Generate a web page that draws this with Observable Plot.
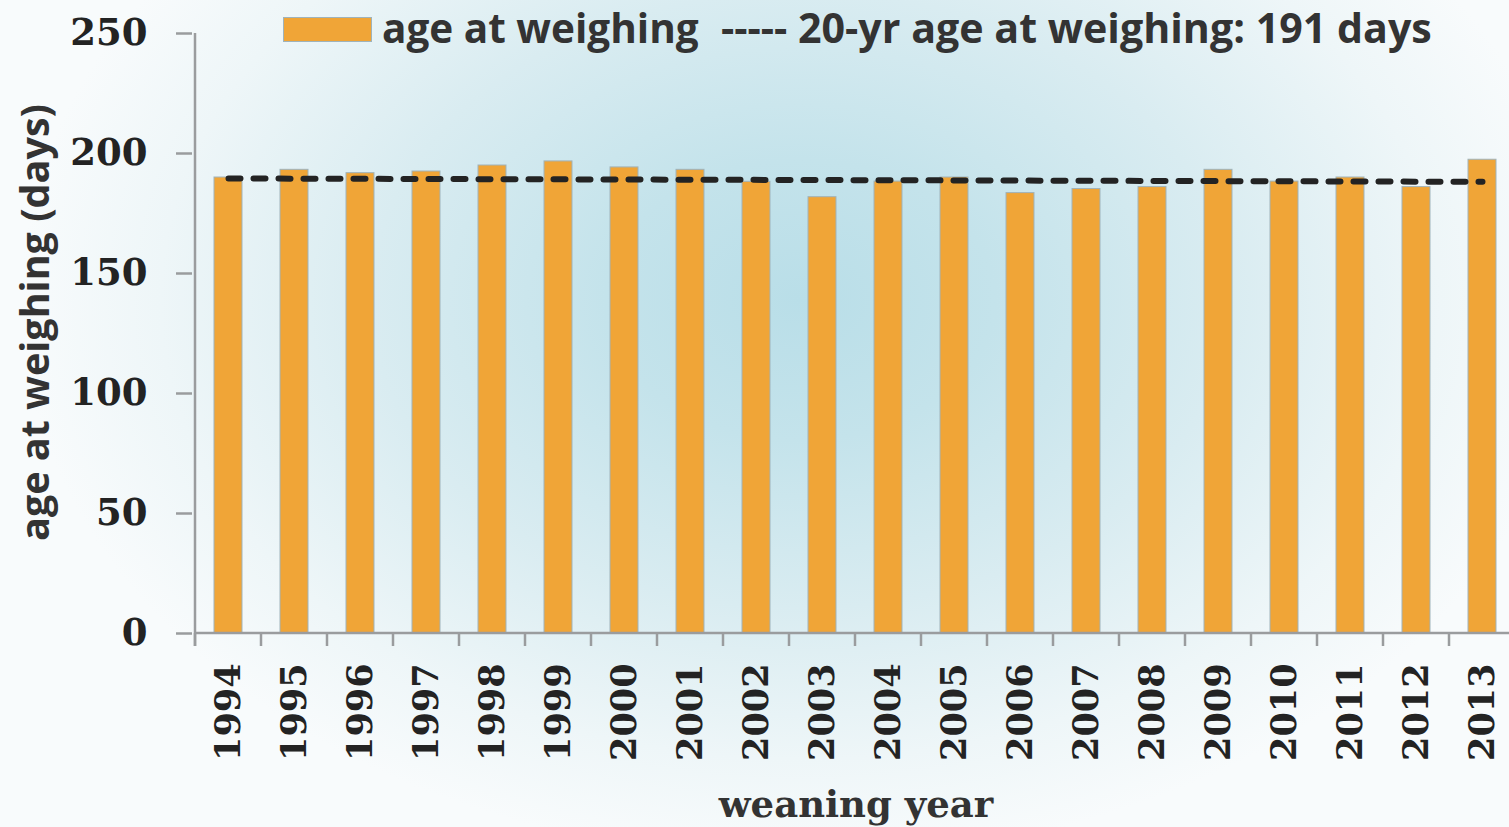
<!DOCTYPE html>
<html>
<head>
<meta charset="utf-8">
<script src="https://cdn.jsdelivr.net/npm/d3@7"></script>
<script src="https://cdn.jsdelivr.net/npm/@observablehq/plot@0.6"></script>
<style>
  html, body { margin: 0; padding: 0; background: #f8fbfc; }
  #wrap {
    position: relative; width: 1509px; height: 827px; overflow: hidden;
    background: radial-gradient(ellipse 780px 560px at 800px 300px, #b9dee8 0%, #c4e3eb 25%, #d9ecf1 55%, #eef6f8 82%, #f8fbfc 100%);
  }
  #chart svg { display: block; background: transparent !important; }
  #legend { position: absolute; left: 0; top: 0; width: 1509px; height: 60px; pointer-events: none; }
  .sw { position: absolute; left: 283px; top: 17px; width: 87px; height: 23px; background: #F0A537; border: 1px solid #9fb3bb; }
  .lt { position: absolute; top: 0px; font-family: "Open Sans", sans-serif; font-weight: 700; font-size: 40.5px; color: #333; line-height: 55px; white-space: pre; }
</style>
</head>
<body>
<div id="wrap">
  <div id="chart"></div>
  <div id="legend"></div>
</div>
<script>
// ---- data ----
const years = [1994, 1995, 1996, 1997, 1998, 1999, 2000, 2001, 2002, 2003,
               2004, 2005, 2006, 2007, 2008, 2009, 2010, 2011, 2012, 2013];
const ageAtWeighing = [190.0, 193.2, 191.8, 192.5, 195.0, 196.7, 194.2, 193.2, 188.2, 181.8,
                       188.3, 190.0, 183.5, 185.2, 186.0, 193.2, 188.3, 190.0, 186.0, 197.4];
const avgLineYears = [1994, 2013];
const avgLineValues = [189.6, 188.2];
const yTicks = [0, 50, 100, 150, 200, 250];
const barLegendLabel = "age at weighing";
const lineLegendLabel = "----- 20-yr age at weighing: 191 days";
const xTitle = "weaning year";
const yTitle = "age at weighing (days)";

const bars = years.map((y, i) => ({year: y, value: ageAtWeighing[i]}));
const avgLine = avgLineYears.map((y, i) => ({year: y, value: avgLineValues[i]}));

const axisColor = "#9a9c9e";

// custom axis lines and boundary ticks (between categories)
function axisFrame(index, scales, values, dims) {
  const x = scales.x, y = scales.y;
  const bw = x.bandwidth ? x.bandwidth() : 0;
  const step = x(years[1]) - x(years[0]);
  const gap = (step - bw) / 2;
  const y0 = y(0), yTop = y(250);
  const left = x(years[0]) - gap;
  const g = d3.create("svg:g").attr("stroke", axisColor).attr("stroke-width", 2.5).attr("fill", "none");
  g.append("line").attr("x1", left).attr("x2", left).attr("y1", yTop).attr("y2", y0 + 13);
  g.append("line").attr("x1", left).attr("x2", dims.width + 20).attr("y1", y0).attr("y2", y0);
  years.forEach((yr) => {
    const bx = x(yr) - gap;
    g.append("line").attr("x1", bx).attr("x2", bx).attr("y1", y0).attr("y2", y0 + 13);
  });
  const last = x(years[years.length - 1]) + bw + gap;
  g.append("line").attr("x1", last).attr("x2", last).attr("y1", y0).attr("y2", y0 + 13);
  return g.node();
}

const chart = Plot.plot({
  width: 1509,
  height: 827,
  marginLeft: 192,
  marginRight: 0,
  marginTop: 33,
  marginBottom: 194,
  style: {background: "transparent", overflow: "visible"},
  x: {type: "band", domain: years, range: [192, 1518], paddingInner: 0.578, paddingOuter: 0.289, label: null},
  y: {domain: [0, 250], range: [633, 33], label: null},
  marks: [
    Plot.barY(bars, {x: "year", y: "value", fill: "#F0A537", stroke: "#9fb3bb", strokeWidth: 1}),
    axisFrame,
    Plot.axisY({ticks: yTicks, tickSize: 16, tickPadding: 29, stroke: axisColor, strokeWidth: 2.5,
      fill: "#232323", fontSize: 37, fontFamily: "DejaVu Serif", fontWeight: "bold", label: null}),
    Plot.axisX({tickSize: 0, tickRotate: -90, tickPadding: 30, fill: "#232323", tickFormat: (d) => String(d),
      fontSize: 35, fontFamily: "DejaVu Serif", fontWeight: "bold", label: null}),
    Plot.line(avgLine, {x: "year", y: "value", stroke: "#232323", strokeWidth: 6,
      strokeDasharray: "12,13", strokeLinecap: "round"}),
    Plot.text([xTitle], {frameAnchor: "bottom", dy: 172, dx: 5, fontFamily: "DejaVu Serif", fontWeight: "bold",
      fontSize: 37, fill: "#333", lineAnchor: "middle", textAnchor: "middle"}),
    Plot.text([yTitle], {frameAnchor: "left", rotate: -90, dx: -156, dy: -11, fontFamily: "Open Sans", fontWeight: "bold",
      fontSize: 39.5, fill: "#333", lineAnchor: "middle", textAnchor: "middle"})
  ]
});
document.getElementById("chart").appendChild(chart);

const legend = document.getElementById("legend");
const sw = document.createElement("div"); sw.className = "sw"; legend.appendChild(sw);
const t1 = document.createElement("div"); t1.className = "lt"; t1.style.left = "382px"; t1.textContent = barLegendLabel; legend.appendChild(t1);
const t2 = document.createElement("div"); t2.className = "lt"; t2.style.left = "721px"; t2.style.fontSize = "41.2px"; t2.textContent = lineLegendLabel; legend.appendChild(t2);
</script>
</body>
</html>
